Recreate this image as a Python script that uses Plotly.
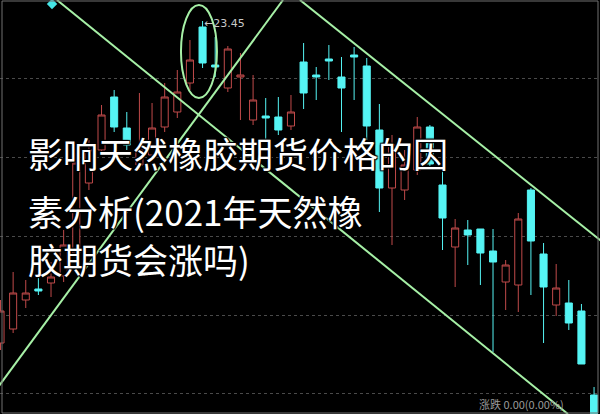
import plotly.graph_objects as go

# ---- candle data (index, open, high, low, close) ----
idx = list(range(48))
opens = [20.23, 20.37, 20.66, 20.77, 20.83, 20.90, 21.13, 21.83, 22.16, 22.69,
         22.38, 22.01, 22.11, 22.39, 22.54, 22.83, 23.39, 23.01, 22.78, 22.89,
         22.46, 22.50, 22.49, 22.40, 23.04, 22.91, 23.07, 22.89, 23.11, 23.00,
         22.36, 21.78, 21.76, 21.96, 22.39, 21.81, 21.19, 21.36, 21.37, 21.15,
         20.84, 20.81, 21.76, 21.12, 20.61, 20.63, 20.55, 19.71]
highs = [20.66, 20.94, 20.86, 20.89, 21.04, 21.36, 22.13, 22.26, 22.61, 22.76,
         22.54, 22.73, 22.63, 22.83, 22.96, 23.26, 23.45, 23.29, 23.20, 23.13,
         22.91, 22.68, 22.69, 22.71, 23.23, 22.99, 23.21, 23.09, 23.19, 23.08,
         22.62, 22.31, 22.16, 22.49, 22.41, 22.01, 21.47, 21.46, 21.37, 21.37,
         21.06, 21.53, 21.78, 21.23, 21.02, 20.86, 20.62, 19.79]
lows = [20.16, 20.33, 20.58, 20.71, 20.69, 20.84, 21.08, 21.76, 22.11, 22.34,
        22.16, 21.96, 22.06, 22.34, 22.48, 22.76, 22.98, 22.89, 22.74, 22.46,
        22.41, 22.26, 22.31, 22.36, 22.57, 22.66, 22.86, 22.34, 22.66, 22.26,
        21.54, 21.21, 21.66, 21.91, 21.98, 21.16, 20.79, 21.01, 20.81, 20.14,
        20.56, 20.54, 20.71, 20.23, 20.50, 20.36, 20.02, 19.26]
closes = [20.55, 20.73, 20.73, 20.75, 20.89, 21.21, 22.03, 22.16, 22.51, 22.39,
          22.21, 22.16, 22.38, 22.69, 22.74, 23.06, 23.03, 22.99, 23.17, 22.91,
          22.66, 22.48, 22.36, 22.54, 22.73, 22.89, 23.05, 22.78, 23.09, 22.40,
          21.78, 22.21, 22.01, 22.39, 22.02, 21.48, 21.38, 21.31, 21.13, 21.04,
          21.01, 21.47, 21.25, 20.79, 20.78, 20.43, 20.02, 19.36]

# trend lines drawn on the chart (index, price)
trend1_x = [4.47, 44.93]
trend1_y = [23.66, 19.52]
trend2_x = [22.37, -0.83]
trend2_y = [23.66, 19.68]
trend3_x = [23.71, 48.26]
trend3_y = [23.66, 21.18]
marker_x = [4.08]
marker_y = [23.62]
# highlighted area (ellipse) around the peak
ell_x = [14.29, 17.14]
ell_y = [22.68, 23.61]
peak_label = "←23.45"
grid_vals = [22.88, 22.09, 21.30, 20.51, 19.73]

title_lines = ["影响天然橡胶期货价格的因", "素分析(2021年天然橡", "胶期货会涨吗)"]
bottom_text = "涨跌 0.00(0.00%)"

GREEN = "#a6f0a6"
fig = go.Figure()
fig.add_trace(go.Candlestick(
    x=idx, open=opens, high=highs, low=lows, close=closes,
    increasing=dict(line=dict(color="#c04a4a", width=1), fillcolor="#000000"),
    decreasing=dict(line=dict(color="#55f4f4", width=1), fillcolor="#55f4f4"),
    whiskerwidth=0, showlegend=False, hoverinfo="skip"))

for tx, ty in [(trend1_x, trend1_y), (trend2_x, trend2_y), (trend3_x, trend3_y)]:
    fig.add_trace(go.Scatter(x=tx, y=ty, mode="lines",
                             line=dict(color=GREEN, width=2),
                             showlegend=False, hoverinfo="skip"))

fig.add_trace(go.Scatter(x=marker_x, y=marker_y, mode="markers",
                         marker=dict(symbol="diamond", size=8, color="#45e6e6"),
                         showlegend=False, hoverinfo="skip"))

fig.add_shape(type="circle", xref="x", yref="y",
              x0=ell_x[0], x1=ell_x[1], y0=ell_y[0], y1=ell_y[1],
              line=dict(color=GREEN, width=2))

fig.add_shape(type="rect", xref="paper", yref="paper",
              x0=2/600, x1=598/600, y0=1/414, y1=413/414,
              line=dict(color="#707070", width=1))

fig.add_annotation(x=16, y=23.43, xref="x", yref="y", text=peak_label,
                   showarrow=False, xanchor="left", yanchor="middle", xshift=-1,
                   font=dict(family="DejaVu Sans", size=11, color="#c8c8c8"))

shadow = "1px 1px 1px #000, -1px -1px 1px #000, 1px -1px 1px #000, -1px 1px 1px #000"
for k, (line, yc) in enumerate(zip(title_lines, [152, 210, 258])):
    fig.add_annotation(x=26/600, y=1 - yc/414, xref="paper", yref="paper",
                       text=line, showarrow=False, xanchor="left", yanchor="middle",
                       font=dict(family="Noto Sans CJK SC", size=35, color="#ffffff",
                                 shadow=shadow))

fig.add_annotation(x=477/600, y=0, xref="paper", yref="paper", text=bottom_text,
                   showarrow=False, xanchor="left", yanchor="bottom", yshift=0,
                   font=dict(family="Noto Sans CJK SC", size=11, color="#9a9a9a"))

fig.update_layout(
    width=600, height=414,
    margin=dict(l=0, r=0, t=0, b=0),
    paper_bgcolor="#000000", plot_bgcolor="#000000",
    boxgap=0.2,
    xaxis=dict(range=[-0.04, 47.47], showgrid=False, zeroline=False,
               showticklabels=False, ticks="", rangeslider=dict(visible=False)),
    yaxis=dict(range=[19.52, 23.66], tickvals=grid_vals, showticklabels=False,
               ticks="", showgrid=True, gridcolor="#4a4a4a", griddash="dot",
               gridwidth=1, zeroline=False),
)
fig.write_html("out.html", config={"displayModeBar": False},
               post_script="document.body.style.margin='0';document.body.style.background='#000';")
